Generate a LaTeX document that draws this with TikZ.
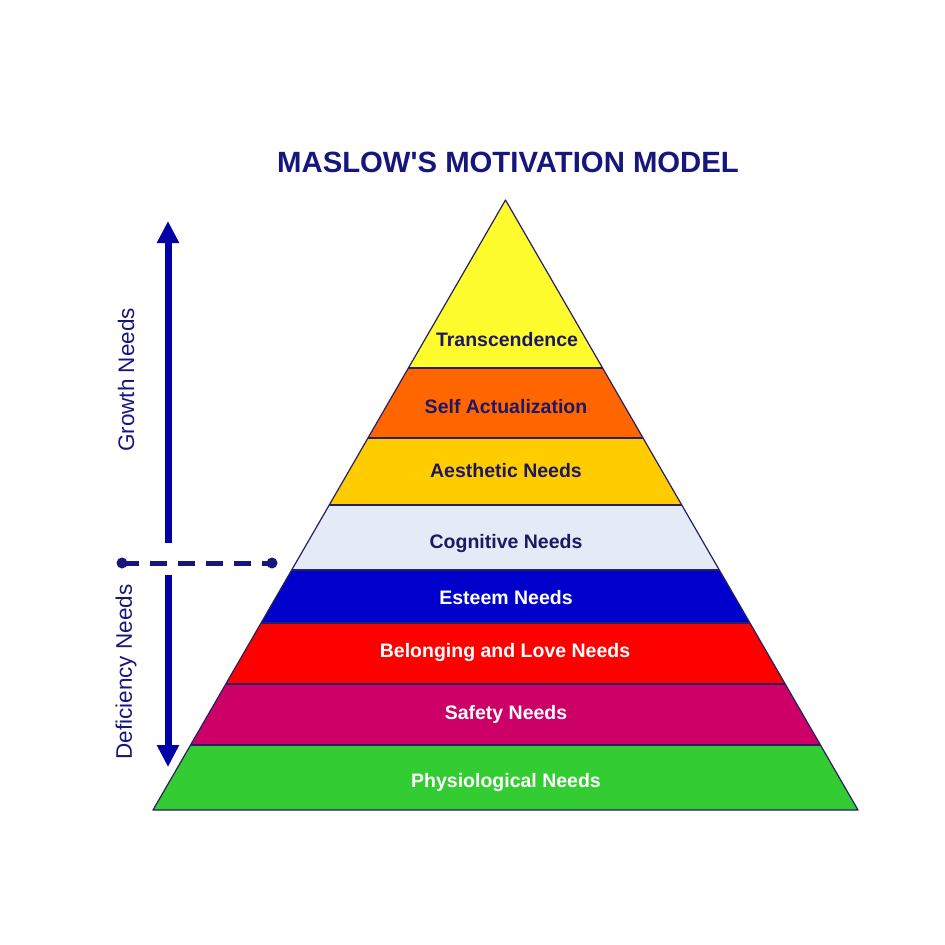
\documentclass[tikz,border=0pt]{standalone}
\usepackage{fontspec}
\setmainfont{Liberation Sans}
\usetikzlibrary{arrows.meta}
\definecolor{navy}{RGB}{22,22,125}
\definecolor{labelnavy}{RGB}{30,24,100}
\definecolor{arrowblue}{RGB}{0,0,168}
\definecolor{edge}{RGB}{40,30,100}
\definecolor{cyellow}{RGB}{255,252,45}
\definecolor{corange}{RGB}{255,102,0}
\definecolor{caesth}{RGB}{255,204,0}
\definecolor{ccogn}{RGB}{228,234,246}
\definecolor{cesteem}{RGB}{0,0,204}
\definecolor{cred}{RGB}{255,0,0}
\definecolor{csafety}{RGB}{204,0,102}
\definecolor{cgreen}{RGB}{51,204,51}
\begin{document}
\begin{tikzpicture}[x=1pt,y=-1pt,
  lbl/.style={font=\fontsize{19.5}{22}\selectfont\bfseries, inner sep=0pt, anchor=center},
  darklbl/.style={lbl, text=labelnavy},
  lightlbl/.style={lbl, text=white},
  sidelbl/.style={font=\fontsize{22.5}{25}\selectfont, text=navy, rotate=90, inner sep=0pt, anchor=center},
  bandline/.style={draw=edge, line width=1.2pt, line join=round},
  bigarrow/.style={draw=arrowblue, line width=7pt, -{Triangle[width=21pt,length=22pt]}},
  divider/.style={draw=navy, line width=5pt, dash pattern=on 17pt off 11pt}]
\useasboundingbox[fill=white] (0,0) rectangle (945,945);

% title
\node[font=\fontsize{29.3}{32}\selectfont\bfseries, text=navy, inner sep=0pt] (title) at (508,162) {MASLOW\textquotesingle S MOTIVATION MODEL};

% bands
\fill[cyellow] (505.5,200) -- (602.6,368) -- (408.4,368) -- cycle;
\fill[corange] (408.4,368) -- (602.6,368) -- (643.0,438) -- (368.0,438) -- cycle;
\fill[caesth]  (368.0,438) -- (643.0,438) -- (681.8,505) -- (329.3,505) -- cycle;
\fill[ccogn]   (329.3,505) -- (681.8,505) -- (719.3,570) -- (291.7,570) -- cycle;
\fill[cesteem] (291.7,570) -- (719.3,570) -- (749.9,623) -- (261.1,623) -- cycle;
\fill[cred]    (261.1,623) -- (749.9,623) -- (785.2,684) -- (225.8,684) -- cycle;
\fill[csafety] (225.8,684) -- (785.2,684) -- (820.4,745) -- (190.6,745) -- cycle;
\fill[cgreen]  (190.6,745) -- (820.4,745) -- (858,810) -- (153,810) -- cycle;

% separators and outline
\path[bandline] (408.4,368) -- (602.6,368);
\path[bandline] (368.0,438) -- (643.0,438);
\path[bandline] (329.3,505) -- (681.8,505);
\path[bandline] (291.7,570) -- (719.3,570);
\path[bandline] (261.1,623) -- (749.9,623);
\path[bandline] (225.8,684) -- (785.2,684);
\path[bandline] (190.6,745) -- (820.4,745);
\path[bandline] (505.5,200) -- (858,810) -- (153,810) -- cycle;

% labels
\node[darklbl] (trans) at (507,340) {Transcendence};
\node[darklbl] (self) at (506,407) {Self Actualization};
\node[darklbl] (aesth) at (506,471) {Aesthetic Needs};
\node[darklbl] (cogn) at (506,543) {Cognitive Needs};
\node[lightlbl] (esteem) at (506,598) {Esteem Needs};
\node[lightlbl] (belong) at (505,652) {Belonging and Love Needs};
\node[lightlbl] (safety) at (506,714) {Safety Needs};
\node[lightlbl] (phys) at (506,782) {Physiological Needs};

% side arrows
\coordinate (gstart) at (168,543);
\coordinate (gend) at (168,221);
\coordinate (dstart) at (168,575);
\coordinate (dend) at (168,767);
\path[bigarrow] (gstart) -- (gend);
\path[bigarrow] (dstart) -- (dend);

\node[sidelbl] (growth) at (126,380) {Growth Needs};
\node[sidelbl] (defic) at (126,672) {Deficiency Needs};

% dashed divider
\coordinate (dl) at (122,563);
\coordinate (dr) at (272,563);
\path[divider] (dl) -- (dr);
\fill[navy] (dl) circle (5.5pt);
\fill[navy] (dr) circle (5.5pt);
\end{tikzpicture}
\end{document}
